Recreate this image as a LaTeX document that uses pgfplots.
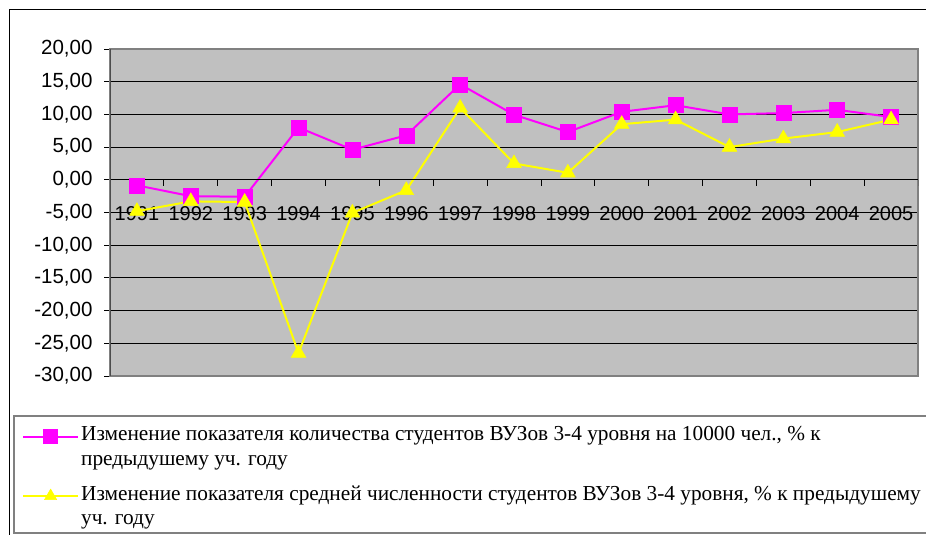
\documentclass[border=0pt]{standalone}
\usepackage{pgfplots}
\pgfplotsset{compat=1.18}
\usepackage{fontspec}
\setmainfont{Liberation Serif}
\newfontfamily\arial{Liberation Sans}
\definecolor{plotgray}{RGB}{192,192,192}
\definecolor{bordergray}{RGB}{128,128,128}
\definecolor{mag}{RGB}{255,0,255}
\definecolor{yel}{RGB}{255,255,0}
\begin{document}
\begin{tikzpicture}
\path[use as bounding box, clip] (0pt,0pt) rectangle (926pt,535pt);
\fill[white] (0pt,0pt) rectangle (926pt,535pt);
\draw[black, line width=1pt] (9pt,-5pt) -- (9pt,525pt) -- (940pt,525pt);
\draw[bordergray, line width=1.5pt] (14pt,2pt) rectangle (940pt,119pt);
\begin{axis}[
  at={(110pt,159pt)}, anchor=south west,
  scale only axis, width=808pt, height=327pt,
  xmin=-0.5, xmax=14.5, ymin=-30, ymax=20,
  axis background/.style={fill=plotgray},
  axis line style={draw=bordergray, line width=1.5pt},
  ytick={-30,-25,...,20},
  ymajorgrids, grid style={black, line width=0.8pt},
  tick align=outside, tickpos=left,
  major tick length=6pt,
  ytick style={black, line width=0.8pt},
  xtick={0,...,14},
  xticklabels={1991,1992,1993,1994,1995,1996,1997,1998,1999,2000,2001,2002,2003,2004,2005},
  xtick style={draw=none},
  xticklabel style={font=\arial\fontsize{20}{20}\selectfont, anchor=center, yshift=168.5pt},
  yticklabel style={font=\arial\fontsize{20.5}{20.5}\selectfont, xshift=-8pt,
    /pgf/number format/fixed, /pgf/number format/fixed zerofill,
    /pgf/number format/precision=2, /pgf/number format/use comma,
    /pgf/number format/assume math mode=true},
  legend style={draw=none, fill=none, at={(-0.109,-0.148)}, anchor=north west,
    cells={anchor=west, align=left}, font=\fontsize{21.3}{24.5}\selectfont,
    row sep=15pt, inner sep=0pt},
  legend image code/.code={\draw[mark repeat=2,mark phase=2,#1,mark size=7pt,yshift=10pt] plot coordinates {(0pt,0pt) (27.5pt,0pt) (55pt,0pt)};},
]
\addplot[mag, line width=2pt, mark=square*, mark size=7.5pt, mark options={fill=mag, draw=mag, line width=0.5pt}] coordinates {
(0,-0.85) (1,-2.5) (2,-2.6) (3,8.0) (4,4.6) (5,6.8) (6,14.6) (7,9.95) (8,7.3) (9,10.4) (10,11.4) (11,10.0) (12,10.2) (13,10.7) (14,9.6)};
\addlegendentry{Изменение показателя количества студентов ВУЗов 3-4 уровня на 10000 чел., \% к\\предыдушему уч. году}
\addplot[yel, line width=2pt, mark=triangle*, mark size=8.5pt, mark options={fill=yel, draw=yel, line width=0.5pt}] coordinates {
(0,-4.8) (1,-3.3) (2,-3.4) (3,-26.5) (4,-5.05) (5,-1.6) (6,11.0) (7,2.5) (8,1.07) (9,8.5) (10,9.2) (11,5.0) (12,6.3) (13,7.3) (14,9.2)};
\addlegendentry{Изменение показателя средней численности студентов ВУЗов 3-4 уровня, \% к предыдушему\\уч. году}
\draw[black, line width=1pt] (axis cs:-0.5,0) -- (axis cs:14.5,0);
\pgfplotsinvokeforeach{0.5,1.5,2.5,3.5,4.5,5.5,6.5,7.5,8.5,9.5,10.5,11.5,12.5,13.5,14.5}{
  \draw[black, line width=0.8pt] (axis cs:#1,0) -- ++(0pt,-6pt);}
\draw[black!70, line width=1.5pt] (axis cs:-0.5,-30) -- (axis cs:-0.5,20);
\end{axis}
\end{tikzpicture}
\end{document}
